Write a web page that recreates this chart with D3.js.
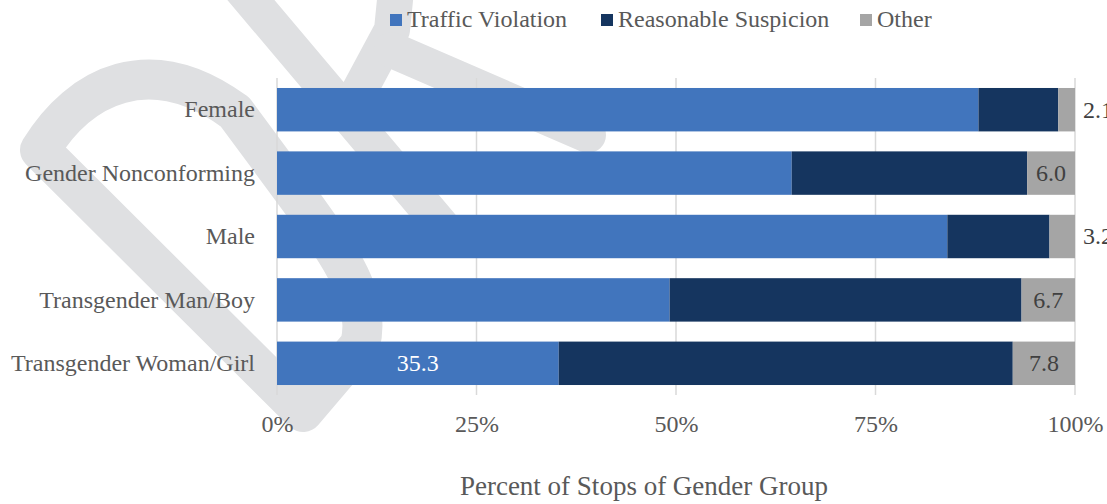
<!DOCTYPE html>
<html>
<head>
<meta charset="utf-8">
<script src="https://cdn.jsdelivr.net/npm/d3@7"></script>
<style>
  body { margin: 0; background: #fff; }
  text { font-family: "Liberation Serif", "Times New Roman", serif; }
</style>
</head>
<body>
<div id="chart"></div>
<script>
// categories, top to bottom
var categories = ["Female", "Gender Nonconforming", "Male", "Transgender Man/Boy", "Transgender Woman/Girl"];
// percent of stops by reason
var trafficViolation    = [87.9, 64.5, 84.0, 49.2, 35.3];
var reasonableSuspicion = [10.0, 29.5, 12.8, 44.1, 56.9];
var other               = [ 2.1,  6.0,  3.2,  6.7,  7.8];
var seriesNames = ["Traffic Violation", "Reasonable Suspicion", "Other"];
var tickValues = [0, 25, 50, 75, 100];
// only this bar had its traffic violation share written on it
var tvLabelled = ["Transgender Woman/Girl"];

var W = 1107, H = 504;
var margin = {top: 78, right: 32, bottom: 109, left: 277};
var colors = {"Traffic Violation": "#4175bd", "Reasonable Suspicion": "#15355f", "Other": "#a5a5a5"};
var textCol = "#595959";

var svg = d3.select("#chart").append("svg")
    .attr("width", W)
    .attr("height", H);

// background watermark (light grey logo strokes)
var wm = svg.append("g")
    .attr("fill", "none")
    .attr("stroke", "#dfe0e2")
    .attr("stroke-linecap", "round")
    .attr("stroke-linejoin", "round");
wm.append("path").attr("stroke-width", 40)
    .attr("d", "M40,150 C80,85 150,50 235,112 L300,200 C340,255 372,300 360,345 L303,412 Z");
wm.append("path").attr("stroke-width", 36)
    .attr("d", "M234,-20 L445,230");
wm.append("path").attr("stroke-width", 36)
    .attr("d", "M397,-20 L392,30 L348,112");
wm.append("path").attr("stroke-width", 36)
    .attr("d", "M392,50 L588,135");

var x = d3.scaleLinear().domain([0, 100]).range([margin.left, W - margin.right]);
var y = d3.scaleBand().domain(categories)
    .range([margin.top, H - margin.bottom])
    .paddingInner(0.315).paddingOuter(0.1575);

// grid
svg.append("g").selectAll("line")
  .data(tickValues)
  .enter().append("line")
    .attr("x1", function(d) { return x(d); })
    .attr("x2", function(d) { return x(d); })
    .attr("y1", margin.top)
    .attr("y2", H - margin.bottom)
    .attr("stroke", "#d9d9d9")
    .attr("stroke-width", 1.5);

// stack the three series
var rows = categories.map(function(c, i) {
  return {cat: c, "Traffic Violation": trafficViolation[i],
          "Reasonable Suspicion": reasonableSuspicion[i], "Other": other[i]};
});
var stacked = d3.stack().keys(seriesNames)(rows);

var layers = svg.append("g").selectAll("g")
  .data(stacked)
  .enter().append("g")
    .attr("fill", function(d) { return colors[d.key]; });

layers.selectAll("rect")
  .data(function(d) { return d; })
  .enter().append("rect")
    .attr("x", function(d) { return x(d[0]); })
    .attr("width", function(d) { return x(d[1]) - x(d[0]); })
    .attr("y", function(d) { return y(d.data.cat); })
    .attr("height", y.bandwidth());

var fmt = d3.format(".1f");

// "Other" labels: inside when wide enough, else just right of the bar
svg.append("g").selectAll("text")
  .data(stacked[2])
  .enter().append("text")
    .attr("x", function(d) {
      var v = d[1] - d[0];
      return v < 4 ? x(d[1]) + 8 : (x(d[0]) + x(d[1])) / 2;
    })
    .attr("y", function(d) { return y(d.data.cat) + y.bandwidth() / 2; })
    .attr("dy", "0.33em")
    .attr("text-anchor", function(d) { return (d[1] - d[0]) < 4 ? "start" : "middle"; })
    .attr("font-size", 24)
    .attr("fill", "#404040")
    .text(function(d) { return fmt(d[1] - d[0]); });

svg.append("g").selectAll("text")
  .data(stacked[0].filter(function(d) { return tvLabelled.indexOf(d.data.cat) >= 0; }))
  .enter().append("text")
    .attr("x", function(d) { return (x(d[0]) + x(d[1])) / 2; })
    .attr("y", function(d) { return y(d.data.cat) + y.bandwidth() / 2; })
    .attr("dy", "0.33em")
    .attr("text-anchor", "middle")
    .attr("font-size", 24)
    .attr("fill", "#ffffff")
    .text(function(d) { return fmt(d[1] - d[0]); });

// category axis
var yAxis = svg.append("g")
    .attr("transform", "translate(" + (margin.left - 22) + ",0)")
    .call(d3.axisLeft(y).tickSize(0).tickPadding(0));
yAxis.select(".domain").remove();
yAxis.selectAll("text")
    .attr("font-size", 24)
    .attr("font-family", "Liberation Serif")
    .attr("fill", textCol)
    .attr("dy", "0.32em");

// value axis
var xAxis = svg.append("g")
    .attr("transform", "translate(0," + (H - margin.bottom) + ")")
    .call(d3.axisBottom(x).tickValues(tickValues).tickSize(0).tickPadding(0)
      .tickFormat(function(d) { return d + "%"; }));
xAxis.select(".domain").remove();
xAxis.selectAll("text")
    .attr("font-size", 24)
    .attr("font-family", "Liberation Serif")
    .attr("fill", textCol)
    .attr("dy", null)
    .attr("y", 37);

svg.append("text")
    .attr("x", 644)
    .attr("y", 495)
    .attr("text-anchor", "middle")
    .attr("font-size", 27)
    .attr("fill", textCol)
    .text("Percent of Stops of Gender Group");

// legend
var legX = [390, 601, 860];
var legend = svg.append("g").selectAll("g")
  .data(seriesNames)
  .enter().append("g")
    .attr("transform", function(d, i) { return "translate(" + legX[i] + ",0)"; });
legend.append("rect")
    .attr("y", 14).attr("width", 12).attr("height", 12)
    .attr("fill", function(d) { return colors[d]; });
legend.append("text")
    .attr("x", 17).attr("y", 27)
    .attr("font-size", 24)
    .attr("fill", textCol)
    .text(function(d) { return d; });
</script>
</body>
</html>
